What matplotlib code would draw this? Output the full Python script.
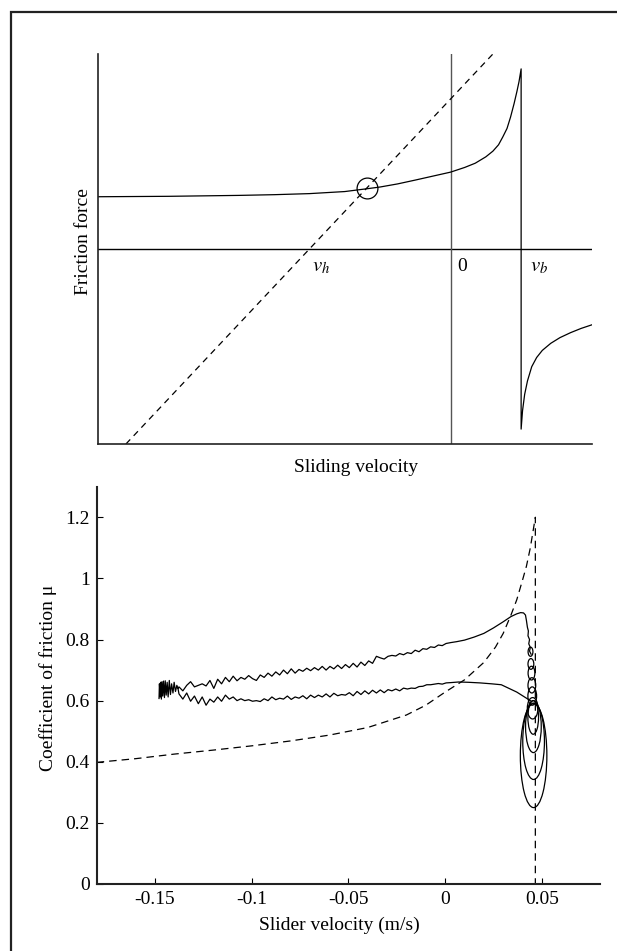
import numpy as np
import matplotlib
matplotlib.use('Agg')
import matplotlib.pyplot as plt
from matplotlib.patches import Ellipse, Rectangle

plt.rcParams['font.family'] = ['Liberation Serif', 'DejaVu Serif']
plt.rcParams['mathtext.fontset'] = 'stix'

# === TOP PANEL: schematic friction law (arbitrary units, v_b = 1) ===
v_h, v_b = -2.0, 1.0
law_v = [-5.0, -4.0, -3.0, -2.5, -2.0, -1.5, -1.19, -1.0, -0.75, -0.5, -0.25, 0.0, 0.2, 0.35,
         0.5, 0.6, 0.68, 0.74, 0.8, 0.85, 0.9, 0.94, 0.97, 1.0,
         1.0, 1.02, 1.05, 1.09, 1.15, 1.22, 1.3, 1.42, 1.55, 1.7, 1.85, 2.0]
law_f = [0.737, 0.743, 0.756, 0.766, 0.781, 0.810, 0.849, 0.874, 0.918, 0.972, 1.028, 1.084, 1.15, 1.21,
         1.30, 1.38, 1.47, 1.58, 1.70, 1.86, 2.05, 2.22, 2.36, 2.54,
         -2.54, -2.28, -2.05, -1.86, -1.66, -1.53, -1.43, -1.33, -1.25, -1.18, -1.12, -1.07]
load_v = [-4.6, 0.6]
load_f = [-2.75, 2.75]
eq_v, eq_f = -1.19, 0.855

# === BOTTOM PANEL: measured friction coefficient ===
xticks_b = [-0.15, -0.1, -0.05, 0, 0.05]
xtick_labels = ['-0.15', '-0.1', '-0.05', '0', '0.05']
yticks_b = [0, 0.2, 0.4, 0.6, 0.8, 1.0, 1.2]
ytick_labels = ['0', '0.2', '0.4', '0.6', '0.8', '1', '1.2']

# dashed steady-state law, ending in the vertical asymptote
dash_v = [-0.18, -0.16, -0.14, -0.12, -0.10, -0.08, -0.06, -0.04, -0.02, -0.01, 0.0, 0.01,
          0.02, 0.026, 0.030, 0.034, 0.037, 0.040, 0.042, 0.044, 0.0466, 0.0466]
dash_mu = [0.398, 0.410, 0.425, 0.438, 0.452, 0.468, 0.487, 0.512, 0.553, 0.585, 0.628, 0.668,
           0.725, 0.775, 0.820, 0.880, 0.930, 0.995, 1.04, 1.10, 1.2, 0.0]

# stick-slip burst at the far left
dense_v = [-0.1478, -0.1476, -0.1472, -0.1470, -0.1466, -0.1463, -0.1459, -0.1455, -0.1450,
           -0.1446, -0.1441, -0.1436, -0.1431, -0.1425, -0.1419, -0.1413, -0.1406, -0.1400,
           -0.1393, -0.1386, -0.1380]
dense_mu = [0.607, 0.655, 0.612, 0.660, 0.605, 0.662, 0.615, 0.664, 0.610, 0.665, 0.618, 0.660,
            0.612, 0.666, 0.620, 0.655, 0.625, 0.660, 0.630, 0.650, 0.640]

up_v = [-0.1380, -0.1375, -0.1355, -0.1335, -0.1315, -0.1295, -0.1275, -0.1255, -0.1235, -0.1215,
        -0.1195, -0.1175, -0.1155, -0.1135, -0.1115, -0.1095, -0.1075, -0.1055, -0.1035, -0.1015,
        -0.0995, -0.0975, -0.0955, -0.0935, -0.0915, -0.0895, -0.0875, -0.0855, -0.0835, -0.0815,
        -0.0795, -0.0775, -0.0755, -0.0735, -0.0715, -0.0695, -0.0675, -0.0655, -0.0635, -0.0615,
        -0.0595, -0.0575, -0.0555, -0.0535, -0.0515, -0.0495, -0.0475, -0.0455, -0.0435, -0.0415,
        -0.0395, -0.0375, -0.0355, -0.0335, -0.0315, -0.0295, -0.0275, -0.0255, -0.0235, -0.0215,
        -0.0195, -0.0175, -0.0155, -0.0135, -0.0115, -0.0095, -0.0075, -0.0055, -0.0035, -0.0015,
        0.0005, 0.0030, 0.0060, 0.0100, 0.0150, 0.0200, 0.0250, 0.0300, 0.0340, 0.0370, 0.0390,
        0.0405, 0.0415, 0.0420, 0.0425, 0.0430, 0.0428, 0.0436, 0.0432, 0.0440, 0.0436, 0.0444]
up_mu = [0.640, 0.645, 0.632, 0.650, 0.662, 0.645, 0.650, 0.655, 0.648, 0.666,
         0.640, 0.670, 0.655, 0.676, 0.662, 0.680, 0.665, 0.676, 0.670, 0.682,
         0.672, 0.666, 0.684, 0.676, 0.690, 0.680, 0.694, 0.684, 0.700, 0.688,
         0.704, 0.690, 0.702, 0.696, 0.706, 0.698, 0.708, 0.700, 0.712, 0.700,
         0.712, 0.704, 0.716, 0.705, 0.718, 0.708, 0.722, 0.710, 0.726, 0.715,
         0.730, 0.722, 0.745, 0.740, 0.736, 0.745, 0.748, 0.746, 0.754, 0.750,
         0.757, 0.754, 0.765, 0.760, 0.770, 0.768, 0.776, 0.774, 0.782, 0.780,
         0.787, 0.790, 0.793, 0.798, 0.808, 0.820, 0.838, 0.858, 0.875, 0.884, 0.888,
         0.887, 0.880, 0.862, 0.840, 0.828, 0.812, 0.800, 0.786, 0.774, 0.762, 0.752]

low_v = [-0.1380, -0.1375, -0.1355, -0.1335, -0.1315, -0.1295, -0.1275, -0.1255, -0.1235, -0.1215,
         -0.1195, -0.1175, -0.1155, -0.1135, -0.1115, -0.1095, -0.1075, -0.1055, -0.1035, -0.1015,
         -0.0995, -0.0975, -0.0955, -0.0935, -0.0915, -0.0895, -0.0875, -0.0855, -0.0835, -0.0815,
         -0.0795, -0.0775, -0.0755, -0.0735, -0.0715, -0.0695, -0.0675, -0.0655, -0.0635, -0.0615,
         -0.0595, -0.0575, -0.0555, -0.0535, -0.0515, -0.0495, -0.0475, -0.0455, -0.0435, -0.0415,
         -0.0395, -0.0375, -0.0355, -0.0335, -0.0315, -0.0295, -0.0275, -0.0255, -0.0235, -0.0215,
         -0.0195, -0.0175, -0.0155, -0.0135, -0.0115, -0.0095, -0.0075, -0.0055, -0.0035, -0.0015,
         0.0005, 0.0030, 0.0070, 0.0120, 0.0180, 0.0240, 0.0290, 0.0330, 0.0370, 0.0400, 0.0430,
         0.0445]
low_mu = [0.640, 0.622, 0.605, 0.625, 0.598, 0.615, 0.590, 0.612, 0.585, 0.605,
          0.595, 0.612, 0.598, 0.618, 0.605, 0.612, 0.600, 0.606, 0.600, 0.603,
          0.598, 0.600, 0.597, 0.606, 0.600, 0.612, 0.603, 0.608, 0.605, 0.615,
          0.604, 0.612, 0.608, 0.616, 0.606, 0.618, 0.610, 0.618, 0.612, 0.622,
          0.612, 0.624, 0.616, 0.620, 0.618, 0.626, 0.616, 0.630, 0.620, 0.632,
          0.622, 0.634, 0.625, 0.635, 0.626, 0.636, 0.632, 0.638, 0.632, 0.641,
          0.638, 0.641, 0.640, 0.646, 0.647, 0.652, 0.652, 0.654, 0.656, 0.654,
          0.658, 0.659, 0.661, 0.660, 0.658, 0.655, 0.652, 0.640, 0.628, 0.616, 0.604,
          0.598]

# limit-cycle loops near the asymptote
ell_v = [0.0457, 0.0457, 0.0456, 0.0455, 0.0452, 0.0450, 0.0448, 0.0446, 0.0443, 0.0441]
ell_mu = [0.42, 0.467, 0.515, 0.545, 0.575, 0.615, 0.650, 0.690, 0.720, 0.760]
ell_w = [0.0137, 0.0112, 0.0081, 0.0055, 0.0055, 0.0045, 0.0040, 0.0035, 0.0030, 0.0025]
ell_h = [0.34, 0.25, 0.17, 0.11, 0.07, 0.06, 0.05, 0.045, 0.035, 0.030]

W, H = 617, 951
fig = plt.figure(figsize=(W / 100, H / 100), dpi=100)

# outer frame (right/bottom edges fall off the canvas)
fig.add_artist(Rectangle((11 / W, -0.05), 1.0, 1 - 12 / H + 0.05, transform=fig.transFigure,
                         fill=False, lw=1.6, ec='#222222', clip_on=False))

# ----- top panel -----
ax1 = fig.add_axes([97.7 / W, 1 - 444 / H, 494 / W, 390 / H])
ax1.set_xlim(-5, 2)
ax1.set_ylim(-2.75, 2.75)
for s in ['top', 'right']:
    ax1.spines[s].set_visible(False)
for s in ['left', 'bottom']:
    ax1.spines[s].set_linewidth(1.2)
    ax1.spines[s].set_color('#222222')
ax1.set_xticks([])
ax1.set_yticks([])
ax1.axhline(0, color='k', lw=1.0)
ax1.axvline(0, color='#555555', lw=1.0)
ax1.plot(law_v, law_f, color='k', lw=0.9)
ax1.plot(load_v, load_f, color='k', lw=0.9, ls=(0, (5, 4)))
ax1.plot([eq_v], [eq_f], marker='o', ms=15, mfc='none', mec='k', mew=0.9)
ax1.text(v_h + 0.03, -0.12, '$v_h$', fontsize=15, ha='left', va='top')
ax1.text(0.09, -0.12, '0', fontsize=14, ha='left', va='top')
ax1.text(v_b + 0.13, -0.12, '$v_b$', fontsize=15, ha='left', va='top')
ax1.set_ylabel('Friction force', fontsize=14, labelpad=4)
ax1.set_xlabel('Sliding velocity', fontsize=14, labelpad=11)
ax1.yaxis.label.set_y(0.52)
ax1.xaxis.label.set_x(0.523)

# ----- bottom panel -----
ax2 = fig.add_axes([96.7 / W, 1 - 884 / H, 503.3 / W, 397.3 / H])
ax2.set_xlim(-0.18, 0.08)
ax2.set_ylim(0, 1.3)
for s in ['top', 'right']:
    ax2.spines[s].set_visible(False)
for s in ['left', 'bottom']:
    ax2.spines[s].set_linewidth(1.5)
    ax2.spines[s].set_color('#222222')
ax2.set_xticks(xticks_b)
ax2.set_xticklabels(xtick_labels)
ax2.set_yticks(yticks_b)
ax2.set_yticklabels(ytick_labels)
ax2.tick_params(direction='in', length=4, width=0.8, labelsize=14, pad=5)
ax2.plot(dash_v, dash_mu, color='k', lw=0.9, ls=(0, (6, 4)))
ax2.plot(dense_v, dense_mu, color='k', lw=0.9)
ax2.plot(up_v, up_mu, color='k', lw=0.9)
ax2.plot(low_v, low_mu, color='k', lw=0.9)
for v, m, w, h in zip(ell_v, ell_mu, ell_w, ell_h):
    ax2.add_patch(Ellipse((v, m), w, h, fill=False, ec='k', lw=0.9))
ax2.set_xlabel('Slider velocity (m/s)', fontsize=14, labelpad=6)
ax2.set_ylabel('Coefficient of friction \u03bc', fontsize=14, labelpad=6)
ax2.xaxis.label.set_x(0.483)
ax2.yaxis.label.set_y(0.518)

fig.savefig('out.png', dpi=100)
